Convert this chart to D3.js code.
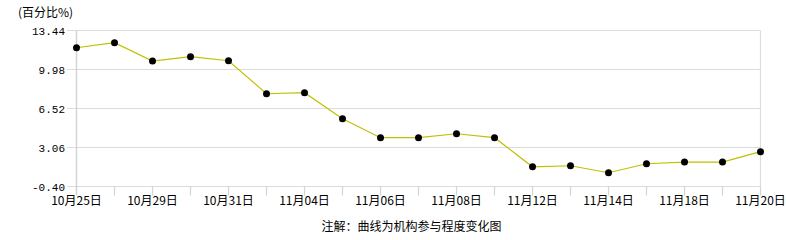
<!DOCTYPE html>
<html><head><meta charset="utf-8">
<script src="https://cdn.jsdelivr.net/npm/d3@7"></script>
<style>body{margin:0;background:#fff}svg{display:block}</style>
</head><body>
<script>
const dates = ["10月25日","10月28日","10月29日","10月30日","10月31日","11月01日","11月04日","11月05日","11月06日","11月07日","11月08日","11月11日","11月12日","11月13日","11月14日","11月15日","11月18日","11月19日","11月20日"];
const values = [11.91,12.36,10.73,11.12,10.76,7.83,7.92,5.61,3.93,3.93,4.28,3.93,1.35,1.44,0.82,1.62,1.77,1.77,2.69];
const yTicks = [-0.40,3.06,6.52,9.98,13.44];
const yTitle = "(百分比%)";
const note = "注解：曲线为机构参与程度变化图";

const W=786,H=240;
const svg=d3.select("body").append("svg").attr("width",W).attr("height",H);
const font="'Noto Sans CJK SC','DejaVu Sans',sans-serif";
const x=d3.scalePoint().domain(dates).range([76.5,760.5]);
const y=d3.scaleLinear().domain([-0.40,13.44]).range([186.5,30.5]);

// grid
svg.append("g").selectAll("line").data(yTicks).join("line")
  .attr("x1",67).attr("x2",760.5).attr("y1",d=>y(d)).attr("y2",d=>y(d))
  .attr("stroke","#dcdcdc").attr("stroke-width",1.2);
// right border
svg.append("line").attr("x1",760.5).attr("x2",760.5).attr("y1",30.5).attr("y2",186.5).attr("stroke","#dcdcdc").attr("stroke-width",1.2);
// left axis
svg.append("line").attr("x1",76.5).attr("x2",76.5).attr("y1",30.5).attr("y2",195).attr("stroke","#d4d4d4").attr("stroke-width",1.5);
// x ticks
svg.append("g").selectAll("line").data(dates).join("line")
  .attr("x1",d=>x(d)).attr("x2",d=>x(d)).attr("y1",186.5).attr("y2",195.5)
  .attr("stroke","#d4d4d4").attr("stroke-width",1.2);

// y labels
svg.append("g").selectAll("text").data(yTicks).join("text")
  .attr("x",65).attr("y",d=>y(d)+4).attr("text-anchor","end")
  .attr("font-family","'Liberation Mono','DejaVu Sans Mono',monospace").attr("font-size",11).attr("fill","#000")
  .text(d=>d.toFixed(2));
// x labels
svg.append("g").selectAll("text").data(dates.filter((d,i)=>i%2===0)).join("text")
  .attr("x",d=>x(d)).attr("y",205).attr("text-anchor","middle")
  .attr("font-family",font).attr("font-size",12).attr("fill","#000")
  .text(d=>d);

svg.append("text").attr("x",18).attr("y",17).attr("font-family",font).attr("font-size",12).text(yTitle);
svg.append("text").attr("x",411.5).attr("y",231).attr("text-anchor","middle").attr("font-family",font).attr("font-size",12).text(note);

// line
const line=d3.line().x((d,i)=>x(dates[i])).y(d=>y(d));
svg.append("path").datum(values).attr("d",line).attr("fill","none").attr("stroke","#c0c000").attr("stroke-width",1.2);
svg.append("g").selectAll("circle").data(values).join("circle")
  .attr("cx",(d,i)=>x(dates[i])).attr("cy",d=>y(d)).attr("r",3.5).attr("fill","#000");
</script>
</body></html>
